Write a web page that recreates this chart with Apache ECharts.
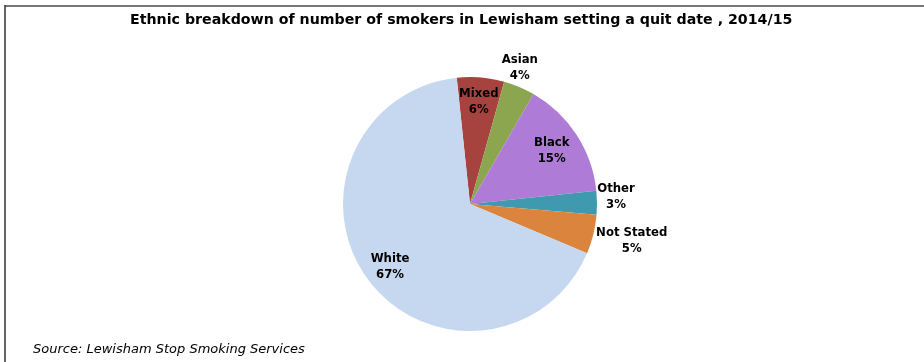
<!DOCTYPE html>
<html>
<head>
<meta charset="utf-8">
<script src="https://cdn.jsdelivr.net/npm/echarts@6/dist/echarts.min.js"></script>
<style>
html,body{margin:0;padding:0;background:#fff;}
#chart{width:924px;height:362px;}
</style>
</head>
<body>
<div id="chart"></div>
<script>
// Data
var categories = ['Mixed', 'Asian', 'Black', 'Other', 'Not Stated', 'White'];
var percentValues = [6, 4, 15, 3, 5, 67];
var sliceColors = ['#A6433F', '#8CA64F', '#AE7BD7', '#3F9AB0', '#DB843D', '#C6D8F0'];
var insideLabelCats = ['Mixed', 'Black', 'White'];
var outsideLabelCats = ['Asian', 'Other', 'Not Stated'];
var titleText = 'Ethnic breakdown of number of smokers in Lewisham setting a quit date , 2014/15';
var sourceText = 'Source: Lewisham Stop Smoking Services';

var FONT = '"DejaVu Sans Condensed", "DejaVu Sans", sans-serif';
var FONT_WIDE = '"DejaVu Sans", sans-serif';
var CENTER = [470, 204];
var R = 127;
var START = 96;

// small label nudges (style only)
var labelNudge = {
  'Other': [-3, -6], 'Not Stated': [17, 1], 'Asian': [-8, 1],
  'Black': [-6, 4], 'White': [4, 0], 'Mixed': [0, 2]
};

var chart = echarts.init(document.getElementById('chart'));

function mainData() {
  return categories.map(function (c, i) {
    return { name: c, value: percentValues[i], itemStyle: { color: sliceColors[i] } };
  });
}
function ghostData(showSet) {
  return categories.map(function (c, i) {
    return {
      name: c, value: percentValues[i],
      itemStyle: { color: 'rgba(0,0,0,0)' },
      label: { show: showSet.indexOf(c) >= 0 }
    };
  });
}
var labelStyle = {
  position: 'inside',
  formatter: '{b}\n{c}%',
  fontFamily: FONT,
  fontWeight: 'bold',
  fontSize: 13,
  lineHeight: 16,
  color: '#000',
  align: 'center'
};
function nudge(params) {
  var n = labelNudge[categories[params.dataIndex]];
  return n ? { dx: n[0], dy: n[1] } : {};
}

chart.setOption({
  animation: false,
  backgroundColor: '#fff',
  title: {
    text: titleText,
    left: 125, top: 8,
    textStyle: { fontFamily: FONT_WIDE, fontWeight: 'bold', fontSize: 14.2, color: '#000' }
  },
  graphic: [
    { type: 'line', shape: { x1: 5, y1: 6, x2: 924, y2: 6 }, style: { stroke: '#777', lineWidth: 2 }, silent: true },
    { type: 'line', shape: { x1: 5, y1: 5, x2: 5, y2: 362 }, style: { stroke: '#333', lineWidth: 1.5 }, silent: true },
    { type: 'text', left: 33, top: 343, style: { text: sourceText, font: 'italic 13px ' + FONT_WIDE, fill: '#000' }, silent: true }
  ],
  series: [
    {
      type: 'pie', center: CENTER, radius: [0, R], startAngle: START, clockwise: true,
      avoidLabelOverlap: false, silent: true,
      label: { show: false }, labelLine: { show: false },
      itemStyle: { borderWidth: 0 },
      data: mainData()
    },
    {
      type: 'pie', center: CENTER, radius: [0, R * 1.6], startAngle: START, clockwise: true,
      avoidLabelOverlap: false, silent: true,
      label: labelStyle, labelLine: { show: false },
      labelLayout: nudge,
      data: ghostData(insideLabelCats), z: 3
    },
    {
      type: 'pie', center: CENTER, radius: [0, R * 2.3], startAngle: START, clockwise: true,
      avoidLabelOverlap: false, silent: true,
      label: labelStyle, labelLine: { show: false },
      labelLayout: nudge,
      data: ghostData(outsideLabelCats), z: 3
    }
  ]
});
</script>
</body>
</html>
